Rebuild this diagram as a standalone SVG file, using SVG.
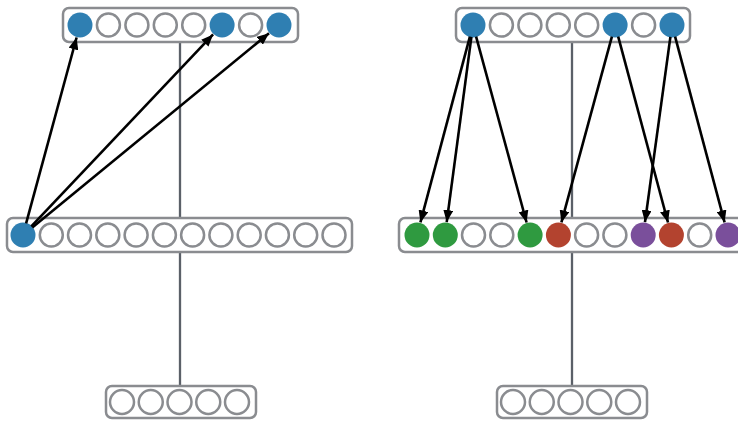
<svg xmlns="http://www.w3.org/2000/svg" width="738" height="423" viewBox="0 0 738 423">
<defs>
<style>
.box{fill:#fff;stroke:#8a8c90;stroke-width:2.5}
.e{fill:#fff;stroke:#8a8c90;stroke-width:2.5}
.b{fill:#2f7fb2}
.g{fill:#2f9a40}
.r{fill:#b3432f}
.p{fill:#7a4f9b}
.stem{stroke:#5b6068;stroke-width:2.3;fill:none}
.arr{stroke:#000;stroke-width:2.6;fill:none;marker-end:url(#ah)}
</style>
<marker id="ah" viewBox="0 0 12 10" refX="12" refY="5" markerWidth="12" markerHeight="10" markerUnits="userSpaceOnUse" orient="auto">
<path d="M0,0 L12,5 L0,10 Z" fill="#000"/>
</marker>
</defs>
<rect width="738" height="423" fill="#fff"/>
<g id="stems">
<line class="stem" x1="180" y1="42" x2="180" y2="217"/>
<line class="stem" x1="180" y1="252" x2="180" y2="385"/>
<line class="stem" x1="572" y1="42" x2="572" y2="217"/>
<line class="stem" x1="572" y1="252" x2="572" y2="385"/>
</g>
<g id="left-top">
<rect class="box" x="63" y="8" width="235" height="34" rx="6"/>
<circle class="b" cx="80" cy="25" r="12.5"/>
<circle class="e" cx="108.4" cy="25" r="11.5"/>
<circle class="e" cx="136.9" cy="25" r="11.5"/>
<circle class="e" cx="165.3" cy="25" r="11.5"/>
<circle class="e" cx="193.7" cy="25" r="11.5"/>
<circle class="b" cx="222.1" cy="25" r="12.5"/>
<circle class="e" cx="250.6" cy="25" r="11.5"/>
<circle class="b" cx="279" cy="25" r="12.5"/>
</g>
<g id="left-mid">
<rect class="box" x="7" y="218" width="345" height="34" rx="6"/>
<circle class="b" cx="23" cy="235" r="12.5"/>
<circle class="e" cx="51.3" cy="235" r="11.5"/>
<circle class="e" cx="79.5" cy="235" r="11.5"/>
<circle class="e" cx="107.8" cy="235" r="11.5"/>
<circle class="e" cx="136.1" cy="235" r="11.5"/>
<circle class="e" cx="164.4" cy="235" r="11.5"/>
<circle class="e" cx="192.6" cy="235" r="11.5"/>
<circle class="e" cx="220.9" cy="235" r="11.5"/>
<circle class="e" cx="249.2" cy="235" r="11.5"/>
<circle class="e" cx="277.4" cy="235" r="11.5"/>
<circle class="e" cx="305.7" cy="235" r="11.5"/>
<circle class="e" cx="334" cy="235" r="11.5"/>
</g>
<g id="left-bottom">
<rect class="box" x="106" y="386" width="150" height="32" rx="6"/>
<circle class="e" cx="122" cy="402" r="12"/>
<circle class="e" cx="150.75" cy="402" r="12"/>
<circle class="e" cx="179.5" cy="402" r="12"/>
<circle class="e" cx="208.25" cy="402" r="12"/>
<circle class="e" cx="237" cy="402" r="12"/>
</g>
<g id="right-top">
<rect class="box" x="456" y="8" width="234" height="34" rx="6"/>
<circle class="b" cx="473" cy="25" r="12.5"/>
<circle class="e" cx="501.4" cy="25" r="11.5"/>
<circle class="e" cx="529.9" cy="25" r="11.5"/>
<circle class="e" cx="558.3" cy="25" r="11.5"/>
<circle class="e" cx="586.7" cy="25" r="11.5"/>
<circle class="b" cx="615.1" cy="25" r="12.5"/>
<circle class="e" cx="643.6" cy="25" r="11.5"/>
<circle class="b" cx="672" cy="25" r="12.5"/>
</g>
<g id="right-mid">
<rect class="box" x="399" y="218" width="350" height="34" rx="6"/>
<circle class="g" cx="417" cy="235" r="12.5"/>
<circle class="g" cx="445.3" cy="235" r="12.5"/>
<circle class="e" cx="473.5" cy="235" r="11.5"/>
<circle class="e" cx="501.8" cy="235" r="11.5"/>
<circle class="g" cx="530.1" cy="235" r="12.5"/>
<circle class="r" cx="558.4" cy="235" r="12.5"/>
<circle class="e" cx="586.6" cy="235" r="11.5"/>
<circle class="e" cx="614.9" cy="235" r="11.5"/>
<circle class="p" cx="643.2" cy="235" r="12.5"/>
<circle class="r" cx="671.4" cy="235" r="12.5"/>
<circle class="e" cx="699.7" cy="235" r="11.5"/>
<circle class="p" cx="728" cy="235" r="12.5"/>
</g>
<g id="right-bottom">
<rect class="box" x="497" y="386" width="150" height="32" rx="6"/>
<circle class="e" cx="513" cy="402" r="12"/>
<circle class="e" cx="541.75" cy="402" r="12"/>
<circle class="e" cx="570.5" cy="402" r="12"/>
<circle class="e" cx="599.25" cy="402" r="12"/>
<circle class="e" cx="628" cy="402" r="12"/>
</g>
<g id="connectors">
<line class="arr" x1="26.1" y1="223.4" x2="76.6" y2="37.5"/>
<line class="arr" x1="31.3" y1="226.3" x2="213.1" y2="34.4"/>
<line class="arr" x1="32.3" y1="227.4" x2="269" y2="33.2"/>
<line class="arr" x1="469.9" y1="36.6" x2="420.4" y2="222.4"/>
<line class="arr" x1="471.4" y1="36.9" x2="446.7" y2="222.1"/>
<line class="arr" x1="476.1" y1="36.6" x2="526.6" y2="222.5"/>
<line class="arr" x1="611.9" y1="36.6" x2="561.4" y2="222.4"/>
<line class="arr" x1="618.2" y1="36.6" x2="668" y2="222.5"/>
<line class="arr" x1="670.4" y1="36.9" x2="645" y2="222.1"/>
<line class="arr" x1="675.1" y1="36.6" x2="724.6" y2="222.4"/>
</g>
</svg>
